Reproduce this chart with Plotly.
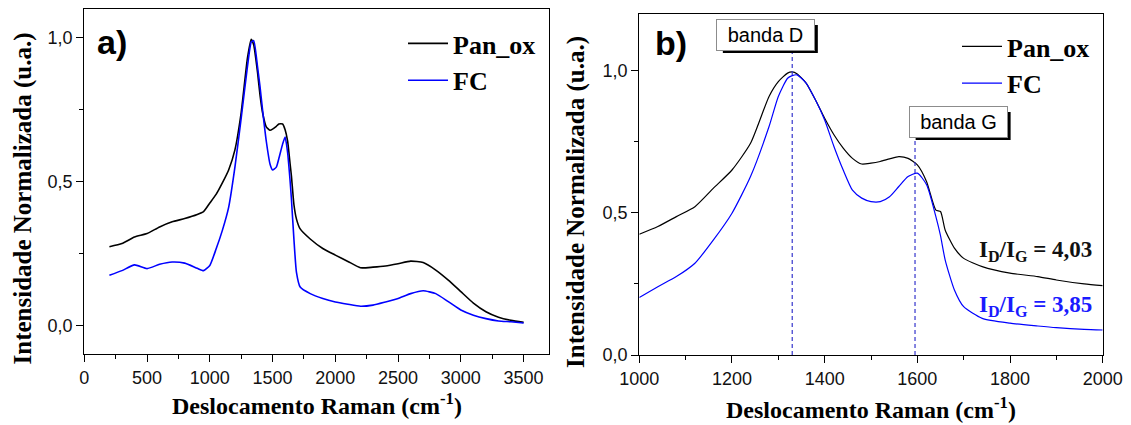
from plotly import graph_objects as go

# Espectros Raman normalizados
a_x = [200, 300, 400, 500, 600, 700, 800, 900, 950, 1000, 1050, 1100, 1150, 1200,
       1250, 1300, 1330, 1350, 1380, 1400, 1420, 1450, 1480, 1500, 1530, 1550,
       1580, 1600, 1620, 1640, 1650, 1670, 1690, 1720, 1800, 1900, 2000, 2100,
       2200, 2300, 2400, 2500, 2600, 2700, 2800, 2900, 3000, 3100, 3200, 3300,
       3400, 3500]
a_pan_ox = [0.273, 0.284, 0.307, 0.319, 0.342, 0.360, 0.371, 0.385, 0.395, 0.425,
            0.455, 0.495, 0.540, 0.610, 0.740, 0.930, 0.995, 0.975, 0.880, 0.800,
            0.740, 0.690, 0.678, 0.682, 0.692, 0.700, 0.700, 0.680, 0.640, 0.560,
            0.520, 0.420, 0.370, 0.335, 0.300, 0.267, 0.244, 0.222, 0.200, 0.202,
            0.206, 0.214, 0.223, 0.218, 0.192, 0.157, 0.117, 0.077, 0.047, 0.028,
            0.017, 0.010]
a_fc = [0.174, 0.190, 0.210, 0.197, 0.212, 0.220, 0.216, 0.198, 0.190, 0.208,
        0.265, 0.330, 0.410, 0.550, 0.720, 0.900, 0.985, 0.990, 0.900, 0.830,
        0.750, 0.640, 0.560, 0.540, 0.550, 0.580, 0.630, 0.655, 0.600, 0.500,
        0.440, 0.300, 0.185, 0.133, 0.110, 0.093, 0.081, 0.073, 0.066, 0.070,
        0.081, 0.093, 0.110, 0.120, 0.110, 0.082, 0.053, 0.035, 0.023, 0.015,
        0.012, 0.008]

b_x = [1000, 1040, 1080, 1120, 1160, 1200, 1240, 1280, 1300, 1320, 1330, 1340,
       1360, 1380, 1400, 1420, 1440, 1460, 1480, 1500, 1520, 1540, 1560, 1580,
       1600, 1620, 1640, 1650, 1660, 1680, 1700, 1740, 1800, 1860, 1900, 1960, 2000]
b_pan_ox = [0.425, 0.452, 0.487, 0.522, 0.587, 0.651, 0.745, 0.910, 0.962, 0.992,
            0.996, 0.990, 0.957, 0.898, 0.833, 0.775, 0.728, 0.692, 0.672, 0.675,
            0.681, 0.690, 0.698, 0.692, 0.669, 0.610, 0.510, 0.505, 0.440, 0.376,
            0.340, 0.311, 0.288, 0.276, 0.264, 0.250, 0.244]
b_fc = [0.202, 0.240, 0.276, 0.323, 0.405, 0.499, 0.628, 0.804, 0.910, 0.974,
        0.983, 0.986, 0.957, 0.898, 0.827, 0.734, 0.651, 0.580, 0.552, 0.540,
        0.540, 0.557, 0.593, 0.628, 0.640, 0.599, 0.487, 0.420, 0.335, 0.229,
        0.170, 0.129, 0.112, 0.102, 0.096, 0.090, 0.088]

# Bandas D e G
band_names = ["banda D", "banda G"]
band_pos = [1330, 1595]
band_top = [1.08, 0.77]
label_x = [1272, 1688]
label_y = [1.126, 0.82]

ratio_text = ["I<sub>D</sub>/I<sub>G</sub> = 4,03", "I<sub>D</sub>/I<sub>G</sub> = 3,85"]

W, H = 1131, 425
BLACK = "#000000"
BLUE = "#0000ff"
SERIF = "Liberation Serif"
SANS = "Liberation Sans"


def px(x):
    return x / W


def py(y):
    return 1 - y / H


fig = go.Figure()

fig.add_trace(go.Scatter(x=a_x, y=a_pan_ox, mode="lines", name="Pan_ox",
                         line=dict(color=BLACK, width=1.6, shape="spline", smoothing=0.5),
                         xaxis="x", yaxis="y", legend="legend"))
fig.add_trace(go.Scatter(x=a_x, y=a_fc, mode="lines", name="FC",
                         line=dict(color=BLUE, width=1.6, shape="spline", smoothing=0.5),
                         xaxis="x", yaxis="y", legend="legend"))
fig.add_trace(go.Scatter(x=b_x, y=b_pan_ox, mode="lines", name="Pan_ox",
                         line=dict(color=BLACK, width=1.2, shape="spline", smoothing=0.6),
                         xaxis="x2", yaxis="y2", legend="legend2"))
fig.add_trace(go.Scatter(x=b_x, y=b_fc, mode="lines", name="FC",
                         line=dict(color=BLUE, width=1.2, shape="spline", smoothing=0.6),
                         xaxis="x2", yaxis="y2", legend="legend2"))

# linhas tracejadas das bandas
for pos, top in zip(band_pos, band_top):
    fig.add_trace(go.Scatter(x=[pos, pos], y=[0, top], mode="lines", showlegend=False,
                             line=dict(color="#3535cc", width=1.2, dash="4px,3px"),
                             xaxis="x2", yaxis="y2", hoverinfo="skip"))

axis_common = dict(
    showline=True, linecolor=BLACK, linewidth=1.2, mirror=True,
    ticks="outside", ticklen=7, tickwidth=1.2, tickcolor=BLACK,
    showgrid=False, zeroline=False, automargin=False,
    tickfont=dict(family=SANS, size=18, color="#111111"),
)

fig.update_layout(
    template="none",
    width=W, height=H, autosize=False,
    margin=dict(l=0, r=0, t=0, b=0, pad=0),
    plot_bgcolor="white", paper_bgcolor="white",
    separators=",.",
    xaxis=dict(axis_common, domain=[px(84.3), px(548.7)], range=[0, 3700],
               dtick=500, tick0=0, anchor="y",
               minor=dict(dtick=250, ticks="outside", ticklen=4, tickcolor=BLACK)),
    yaxis=dict(axis_common, domain=[py(354), py(9)], range=[-0.1, 1.1],
               dtick=0.5, tick0=0, tickformat=".1f", anchor="x",
               minor=dict(dtick=0.25, ticks="outside", ticklen=4, tickcolor=BLACK)),
    xaxis2=dict(axis_common, domain=[px(639.3), px(1102.7)], range=[1000, 2000],
                dtick=200, tick0=1000, anchor="y2",
                minor=dict(dtick=100, ticks="outside", ticklen=4, tickcolor=BLACK)),
    yaxis2=dict(axis_common, domain=[py(355), py(14)], range=[0, 1.2],
                dtick=0.5, tick0=0, tickformat=".1f", anchor="x2",
                minor=dict(dtick=0.25, ticks="outside", ticklen=4, tickcolor=BLACK)),
    legend=dict(x=px(403), y=py(20), xanchor="left", yanchor="top",
                bgcolor="rgba(0,0,0,0)", itemwidth=40, tracegroupgap=0,
                font=dict(family=SERIF, size=26, color=BLACK, weight="bold")),
    legend2=dict(x=px(957), y=py(23), xanchor="left", yanchor="top",
                 bgcolor="rgba(0,0,0,0)", itemwidth=40, tracegroupgap=0,
                 font=dict(family=SERIF, size=26, color=BLACK, weight="bold")),
)

title_font = dict(family=SERIF, size=24, color=BLACK, weight="bold")
x_title = "Deslocamento Raman (cm<sup>-1</sup>)"
y_title = "Intensidade Normalizada (u.a.)"

annotations = [
    dict(text=y_title, x=px(22), y=py(198.5), textangle=-90,
         font=dict(title_font, size=25)),
    dict(text=y_title, x=px(576), y=py(202), textangle=-90,
         font=dict(title_font, size=25)),
    dict(text=x_title, x=px(316.5), y=py(404), font=title_font),
    dict(text=x_title, x=px(870.5), y=py(408), font=title_font),
    dict(text="a)", x=px(111.5), y=py(42),
         font=dict(family=SANS, size=34, color=BLACK, weight="bold")),
    dict(text="b)", x=px(670.5), y=py(43),
         font=dict(family=SANS, size=34, color=BLACK, weight="bold")),
]
for a in annotations:
    a.update(xanchor="center")
annotations += [
    dict(text=ratio_text[0], x=px(1094), y=py(251), xanchor="right",
         font=dict(family=SERIF, size=23, color="#111111", weight="bold")),
    dict(text=ratio_text[1], x=px(1094), y=py(306), xanchor="right",
         font=dict(family=SERIF, size=23, color="#1a1aff", weight="bold")),
]
for a in annotations:
    a.update(xref="paper", yref="paper", yanchor="middle", showarrow=False)

# caixas das bandas com sombra
shapes = []
for name, lx, ly in zip(band_names, label_x, label_y):
    shapes.append(dict(type="rect", xref="x2", yref="y2",
                       xsizemode="pixel", ysizemode="pixel", xanchor=lx, yanchor=ly,
                       x0=-42.5, x1=52.5, y0=-18, y1=10,
                       fillcolor=BLACK, line=dict(width=0), layer="above"))
    annotations.append(dict(text=name, x=lx, y=ly, xref="x2", yref="y2", showarrow=False,
                            xanchor="center", yanchor="middle",
                            width=95, height=28, bgcolor="white", bordercolor="#8c8c8c",
                            borderwidth=1, font=dict(family=SANS, color=BLACK, size=20)))

fig.update_layout(annotations=annotations, shapes=shapes)

fig.write_html("out.html", config={"displayModeBar": False},
               post_script="document.body.style.margin='0';")
